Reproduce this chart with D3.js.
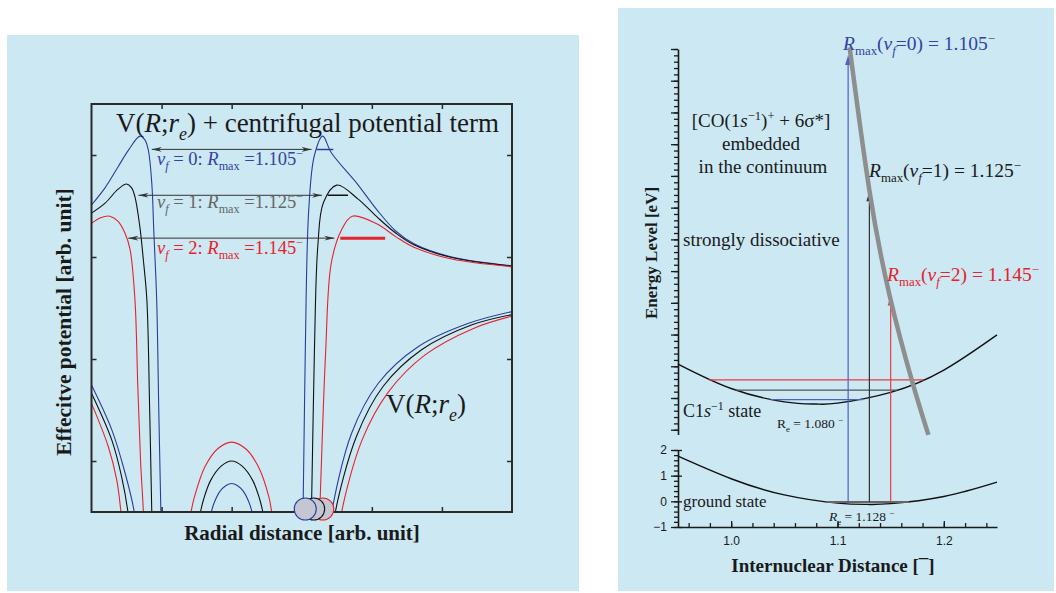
<!DOCTYPE html>
<html>
<head>
<meta charset="utf-8">
<script src="https://cdn.jsdelivr.net/npm/d3@7"></script>
<style>
  body { margin: 0; background: #fff; }
  svg { display: block; }
</style>
</head>
<body>
<div id="fig"></div>
<script>
// ---------- left panel data (arb. units: radial 0..6, potential 0..8) ----------
var vfLevels = [0, 1, 2];
var rmaxValues = ["1.105", "1.125", "1.145"];
var radialTicks = [1, 2, 3, 4, 5];
var potentialTicks = [1, 3, 5, 7];

// V(R;re) + centrifugal term, inner branch (blue v=0, black v=1, red v=2)
var effInner = [
    [[0,6.02],[0.19,6.35],[0.38,6.77],[0.53,7.10],[0.69,7.37],[0.76,7.30],[0.81,7.10],[0.86,6.45],[0.89,5.47],[0.93,4.16],[0.96,2.0],[0.99,0],[1.0,-0.6]],
    [[0,5.86],[0.19,6.05],[0.38,6.33],[0.50,6.43],[0.57,6.36],[0.62,6.18],[0.69,5.59],[0.74,4.94],[0.79,4.16],[0.83,2.0],[0.86,0],[0.87,-0.6]],
    [[0,5.66],[0.13,5.77],[0.26,5.80],[0.38,5.70],[0.48,5.46],[0.55,5.15],[0.62,4.16],[0.66,2.5],[0.70,1.0],[0.74,0],[0.75,-0.6]]
];
// V(R;re) + centrifugal term, outer branch
var effOuter = [
    [[3.0,-0.6],[3.02,0.14],[3.05,3.11],[3.10,5.93],[3.18,6.99],[3.30,7.37],[3.42,7.05],[3.80,6.42],[4.07,5.93],[4.34,5.51],[4.60,5.26],[5.14,5.00],[6.0,4.83]],
    [[3.12,-0.6],[3.14,0.14],[3.18,3.11],[3.23,5.23],[3.31,6.07],[3.50,6.41],[3.80,6.14],[4.07,5.79],[4.34,5.47],[4.60,5.24],[5.14,4.99],[6.0,4.82]],
    [[3.24,-0.6],[3.26,0.14],[3.34,3.11],[3.42,4.87],[3.56,5.51],[3.72,5.80],[4.07,5.65],[4.34,5.40],[4.60,5.19],[5.14,4.96],[6.0,4.81]]
];
// bare V(R;re), left and right branches
var bareLeft = [
    [[0,2.49],[0.29,1.61],[0.48,0.76],[0.61,0],[0.63,-0.3]],
    [[0,2.33],[0.29,1.41],[0.43,0.69],[0.52,0],[0.54,-0.3]],
    [[0,2.13],[0.24,1.28],[0.36,0.63],[0.42,0],[0.44,-0.3]]
];
var bareRight = [
    [[3.41,-0.3],[3.43,0],[3.71,1.54],[4.09,2.52],[4.66,3.24],[5.38,3.70],[6.0,3.93]],
    [[3.46,-0.3],[3.48,0],[3.78,1.48],[4.16,2.46],[4.71,3.18],[5.43,3.67],[6.0,3.87]],
    [[3.55,-0.3],[3.57,0],[3.86,1.41],[4.24,2.36],[4.76,3.08],[5.45,3.60],[6.0,3.84]]
];
// central arches
var arches = [
    [[1.71,0],[1.75,0.18],[1.83,0.40],[1.92,0.52],[2.0,0.56],[2.08,0.52],[2.17,0.40],[2.25,0.18],[2.29,0]],
    [[1.555,0],[1.60,0.25],[1.70,0.62],[1.85,0.90],[2.0,1.0],[2.15,0.90],[2.30,0.62],[2.40,0.25],[2.445,0]],
    [[1.42,0],[1.47,0.30],[1.62,0.89],[1.80,1.24],[2.0,1.37],[2.20,1.24],[2.38,0.89],[2.53,0.30],[2.57,0]]
];
// R_max arrows and level marks
var arrowFrom = [0.86, 0.67, 0.525];
var arrowTo = [3.14, 3.29, 3.465];
var arrowLevel = [7.11, 6.21, 5.37];
var markFrom = [3.21, 3.37, 3.55];
var markTo = [3.45, 3.66, 4.19];
var ballPos = [3.05, 3.17, 3.30];

// ---------- right panel data ----------
var distMajor = [1.0, 1.1, 1.2];
var groundTicks = [-1, 0, 1, 2];
var groundCurve = [[0.95,1.76],[1.0,0.88],[1.05,0.25],[1.10,-0.07],[1.128,-0.12],[1.15,-0.09],[1.20,0.19],[1.25,0.75]];
var coreCurve = [[0.95,2.07],[1.0,1.30],[1.05,0.88],[1.08,0.81],[1.10,0.84],[1.15,1.18],[1.20,1.88],[1.25,2.99]];
var coreLevelE = [0.95, 1.25, 1.57];
var coreLevelLeft = [1.037, 1.004, 0.979];
var coreLevelRight = [1.124, 1.156, 1.181];
var groundLevelE = -0.03;
var groundLevelSpan = [1.089, 1.167];
var transitionR = [1.11, 1.13, 1.15];
var transitionTop = [11.81, 7.52, 4.23];
var dissociative = [[1.1114,12.05],[1.1301,7.52],[1.1489,4.25],[1.170,1.55],[1.1855,-0.16]];

var lineColors = ["#2b3c9e", "#111111", "#e8222a"];
var textColors = ["#3343a3", "#666666", "#e8222a"];
var rightText = ["#3343a3", "#1a1a1a", "#e8222a"];
var vertColors = ["#4d62c2", "#333333", "#ec3b3f"];
var serif = "'Liberation Serif', 'Times New Roman', serif";
var sans = "'Liberation Sans', Arial, sans-serif";

var svg = d3.select("#fig").append("svg")
    .attr("width", 1056)
    .attr("height", 593);

svg.append("rect").attr("x", 7).attr("y", 35).attr("width", 572).attr("height", 556).attr("fill", "#cbe8f3");
svg.append("rect").attr("x", 618).attr("y", 8).attr("width", 436).attr("height", 583).attr("fill", "#cbe8f3");

// mixed italic / sub / sup text
function rich(g, x, y, size, segs, color, anchor) {
    var t = g.append("text")
        .attr("x", x).attr("y", y)
        .attr("font-family", serif)
        .attr("font-size", size)
        .attr("fill", color)
        .attr("text-anchor", anchor || "start");
    var shift = 0;
    segs.forEach(function(s) {
        var target = s.sub ? size * 0.28 : (s.sup ? -size * 0.38 : 0);
        var ts = t.append("tspan").attr("dy", target - shift).text(s.t);
        shift = target;
        if (s.i) ts.attr("font-style", "italic");
        if (s.sub || s.sup) ts.attr("font-size", size * 0.66);
    });
    return t;
}

// ================= LEFT PANEL =================
var xL = d3.scaleLinear().domain([0, 6]).range([91.5, 512]);
var yL = d3.scaleLinear().domain([0, 8]).range([512, 104]);

svg.append("clipPath").attr("id", "clipL")
    .append("rect").attr("x", 91.5).attr("y", 104).attr("width", 420.5).attr("height", 408);

var left = svg.append("g");
var plotL = left.append("g").attr("clip-path", "url(#clipL)");

var lineL = d3.line()
    .x(function(d) { return xL(d[0]); })
    .y(function(d) { return yL(d[1]); })
    .curve(d3.curveCatmullRom.alpha(0.5));

var families = [effInner, effOuter, bareLeft, bareRight, arches];
families.forEach(function(fam) {
    vfLevels.forEach(function(v) {
        plotL.append("path")
            .attr("d", lineL(fam[v]))
            .attr("fill", "none")
            .attr("stroke", lineColors[v])
            .attr("stroke-width", 1.1);
    });
});

// double arrows for R_max
var defs = svg.append("defs");
defs.append("marker").attr("id", "headL")
    .attr("viewBox", "0 0 10 6").attr("refX", 0).attr("refY", 3)
    .attr("markerWidth", 10).attr("markerHeight", 6).attr("markerUnits", "userSpaceOnUse")
    .attr("orient", "auto")
    .append("path").attr("d", "M10,0.6 L0,3 L10,5.4 L7,3 Z").attr("fill", "#333");
defs.append("marker").attr("id", "headR")
    .attr("viewBox", "0 0 10 6").attr("refX", 10).attr("refY", 3)
    .attr("markerWidth", 10).attr("markerHeight", 6).attr("markerUnits", "userSpaceOnUse")
    .attr("orient", "auto")
    .append("path").attr("d", "M0,0.6 L10,3 L0,5.4 L3,3 Z").attr("fill", "#333");

vfLevels.forEach(function(v) {
    plotL.append("line")
        .attr("x1", xL(arrowFrom[v])).attr("x2", xL(arrowTo[v]))
        .attr("y1", yL(arrowLevel[v])).attr("y2", yL(arrowLevel[v]))
        .attr("stroke", "#333").attr("stroke-width", 1)
        .attr("marker-start", "url(#headL)")
        .attr("marker-end", "url(#headR)");
    plotL.append("line")
        .attr("x1", xL(markFrom[v])).attr("x2", xL(markTo[v]))
        .attr("y1", yL(arrowLevel[v])).attr("y2", yL(arrowLevel[v]))
        .attr("stroke", lineColors[v]).attr("stroke-width", v === 2 ? 3 : 1.5);
});

// frame + inward ticks
left.append("g").attr("transform", "translate(91.5,0)")
    .call(d3.axisRight(yL).tickValues(potentialTicks).tickSize(5).tickFormat("")).call(cleanAxis);
left.append("g").attr("transform", "translate(512,0)")
    .call(d3.axisLeft(yL).tickValues(potentialTicks).tickSize(5).tickFormat("")).call(cleanAxis);
left.append("g").attr("transform", "translate(0,104)")
    .call(d3.axisBottom(xL).tickValues(radialTicks).tickSize(5).tickFormat("")).call(cleanAxis);
left.append("g").attr("transform", "translate(0,512)")
    .call(d3.axisTop(xL).tickValues(radialTicks).tickSize(5).tickFormat("")).call(cleanAxis);
left.append("rect").attr("x", 91.5).attr("y", 104).attr("width", 420.5).attr("height", 408)
    .attr("fill", "none").attr("stroke", "#2a2a2a").attr("stroke-width", 2);

function cleanAxis(g) {
    g.select(".domain").remove();
    g.selectAll(".tick line").attr("stroke", "#2a2a2a").attr("stroke-width", 1.5);
}

// molecule balls at the bottom (red behind, blue in front)
vfLevels.slice().reverse().forEach(function(v) {
    left.append("circle")
        .attr("cx", xL(ballPos[v])).attr("cy", yL(0) - 3)
        .attr("r", 11)
        .attr("fill", "#c4c7d2")
        .attr("stroke", lineColors[v]).attr("stroke-width", 1.1);
});

// labels
rich(left, 116, 132, 27, [
    {t: "V("}, {t: "R", i: true}, {t: ";"}, {t: "r", i: true}, {t: "e", i: true, sub: true},
    {t: ") + centrifugal potential term"}
], "#1a1a1a");

var labelBase = [165, 208, 254];
vfLevels.forEach(function(v) {
    rich(left, 157, labelBase[v], 18.5, [
        {t: "v", i: true}, {t: "f", i: true, sub: true}, {t: " = " + v + ": "},
        {t: "R", i: true}, {t: "max", sub: true}, {t: " =" + rmaxValues[v]}, {t: "\u2212", sup: true}
    ], textColors[v]);
});

rich(left, 386, 413, 27, [
    {t: "V("}, {t: "R", i: true}, {t: ";"}, {t: "r", i: true}, {t: "e", i: true, sub: true}, {t: ")"}
], "#1a1a1a");

left.append("text")
    .attr("x", 302).attr("y", 540)
    .attr("text-anchor", "middle")
    .attr("font-family", serif).attr("font-weight", "bold").attr("font-size", 21)
    .attr("fill", "#1a1a1a")
    .text("Radial distance [arb. unit]");

left.append("text")
    .attr("transform", "translate(71,322) rotate(-90)")
    .attr("text-anchor", "middle")
    .attr("font-family", serif).attr("font-weight", "bold").attr("font-size", 21.5)
    .attr("fill", "#1a1a1a")
    .text("Effecitve potential [arb. unit]");

// ================= RIGHT PANEL =================
var xR = d3.scaleLinear().domain([0.95, 1.25]).range([678, 997]);
var yLow = d3.scaleLinear().domain([-1, 2]).range([527, 450]);
var yUp = d3.scaleLinear().domain([-0.15, 12]).range([434.5, 49]);

var right = svg.append("g");

var lineLow = d3.line().x(function(d) { return xR(d[0]); }).y(function(d) { return yLow(d[1]); }).curve(d3.curveNatural);
var lineUp = d3.line().x(function(d) { return xR(d[0]); }).y(function(d) { return yUp(d[1]); }).curve(d3.curveNatural);

// axes
var minorUp = d3.range(0, 12.001, 0.2);
right.append("g").attr("transform", "translate(678,0)")
    .call(d3.axisLeft(yUp).tickValues(minorUp).tickSize(4).tickSizeOuter(0).tickFormat(""))
    .call(styleAxis);
right.append("g").attr("transform", "translate(678,0)")
    .call(d3.axisLeft(yUp).tickValues(d3.range(0, 12.001, 1)).tickSize(7).tickFormat(""))
    .call(styleAxis).select(".domain").remove();

right.append("g").attr("transform", "translate(678,0)")
    .call(d3.axisLeft(yLow).tickValues(d3.range(-1, 2.001, 0.2)).tickSize(4).tickSizeOuter(0).tickFormat(""))
    .call(styleAxis);
right.append("g").attr("transform", "translate(678,0)")
    .call(d3.axisLeft(yLow).tickValues(groundTicks).tickSize(7).tickPadding(4)
        .tickFormat(function(d) { return d < 0 ? "\u2212" + Math.abs(d) : d; }))
    .call(styleAxis)
    .call(function(g) {
        g.select(".domain").remove();
        g.selectAll(".tick text").attr("font-family", sans).attr("font-size", 12).attr("fill", "#1a1a1a");
    });
right.append("g").attr("transform", "translate(678,0)")
    .call(d3.axisRight(yLow).tickValues(groundTicks).tickSize(4).tickFormat(""))
    .call(styleAxis).select(".domain").remove();

right.append("g").attr("transform", "translate(0,527)")
    .call(d3.axisBottom(xR).tickValues(d3.range(0.96, 1.2401, 0.02)).tickSize(-4).tickSizeOuter(0).tickFormat(""))
    .call(styleAxis);
right.append("g").attr("transform", "translate(0,527)")
    .call(d3.axisBottom(xR).tickValues(distMajor).tickSize(-6).tickPadding(9).tickFormat(d3.format(".1f")))
    .call(styleAxis)
    .call(function(g) {
        g.select(".domain").remove();
        g.selectAll(".tick text").attr("font-family", sans).attr("font-size", 12).attr("fill", "#1a1a1a");
    });

function styleAxis(g) {
    g.select(".domain").attr("stroke", "#1a1a1a").attr("stroke-width", 1.6);
    g.selectAll(".tick line").attr("stroke", "#1a1a1a").attr("stroke-width", 1.3);
}

// potential curves
right.append("path").attr("d", lineLow(groundCurve))
    .attr("fill", "none").attr("stroke", "#111").attr("stroke-width", 1.4);
right.append("path").attr("d", lineUp(coreCurve))
    .attr("fill", "none").attr("stroke", "#111").attr("stroke-width", 1.4);

// vibrational levels of the core-ionized state
vfLevels.forEach(function(v) {
    right.append("line")
        .attr("x1", xR(coreLevelLeft[v])).attr("x2", xR(coreLevelRight[v]))
        .attr("y1", yUp(coreLevelE[v])).attr("y2", yUp(coreLevelE[v]))
        .attr("stroke", v === 1 ? "#555" : vertColors[v]).attr("stroke-width", 1.2);
});
right.append("line")
    .attr("x1", xR(groundLevelSpan[0])).attr("x2", xR(groundLevelSpan[1]))
    .attr("y1", yLow(groundLevelE)).attr("y2", yLow(groundLevelE))
    .attr("stroke", "#666").attr("stroke-width", 2);

// vertical transitions
vfLevels.forEach(function(v) {
    var x = xR(transitionR[v]);
    var yTip = yUp(transitionTop[v]);
    right.append("line")
        .attr("x1", x).attr("x2", x)
        .attr("y1", yLow(groundLevelE)).attr("y2", yTip + 8)
        .attr("stroke", vertColors[v]).attr("stroke-width", 1.2);
    right.append("path")
        .attr("d", "M" + x + "," + yTip + " L" + (x - 3) + "," + (yTip + 10) + " L" + (x + 3) + "," + (yTip + 10) + " Z")
        .attr("fill", vertColors[v]);
});

// dissociative state
right.append("path").attr("d", lineUp(dissociative))
    .attr("fill", "none").attr("stroke", "#8e8e8e").attr("stroke-width", 4.5)
    .attr("stroke-linecap", "butt");

// right panel labels
var rmaxBase = [50, 177, 281];
var rmaxX = [843, 869, 887];
vfLevels.forEach(function(v) {
    rich(right, rmaxX[v], rmaxBase[v], 19.5, [
        {t: "R", i: true}, {t: "max", sub: true}, {t: "("}, {t: "v", i: true}, {t: "f", i: true, sub: true},
        {t: "=" + v + ") = " + rmaxValues[v]}, {t: "\u2212", sup: true}
    ], rightText[v]);
});

rich(right, 761, 127, 19, [
    {t: "[CO(1"}, {t: "s", i: true}, {t: "\u22121", sup: true}, {t: ")"}, {t: "+", sup: true}, {t: " + 6\u03c3*]"}
], "#1a1a1a", "middle");
rich(right, 761, 150, 19, [{t: "embedded"}], "#1a1a1a", "middle");
rich(right, 763, 173, 19, [{t: "in the continuum"}], "#1a1a1a", "middle");
rich(right, 683, 246, 19, [{t: "strongly dissociative"}], "#1a1a1a");

rich(right, 683, 417, 18, [
    {t: "C1"}, {t: "s", i: true}, {t: "\u22121", sup: true}, {t: " state"}
], "#1a1a1a");
rich(right, 777, 428, 13.5, [
    {t: "R"}, {t: "e", sub: true}, {t: " = 1.080 "}, {t: "\u2212", sup: true}
], "#1a1a1a");
rich(right, 683, 507, 17, [{t: "ground state"}], "#1a1a1a");
rich(right, 829, 521, 13.5, [
    {t: "R", i: true}, {t: "e", sub: true}, {t: " = 1.128 "}, {t: "\u2212", sup: true}
], "#1a1a1a");

right.append("text")
    .attr("x", 833).attr("y", 572)
    .attr("text-anchor", "middle")
    .attr("font-family", serif).attr("font-weight", "bold").attr("font-size", 19)
    .attr("fill", "#1a1a1a")
    .text("Internuclear Distance [\u00af]");

right.append("text")
    .attr("transform", "translate(657,253) rotate(-90)")
    .attr("text-anchor", "middle")
    .attr("font-family", serif).attr("font-weight", "bold").attr("font-size", 17)
    .attr("fill", "#1a1a1a")
    .text("Energy Level [eV]");
</script>
</body>
</html>
